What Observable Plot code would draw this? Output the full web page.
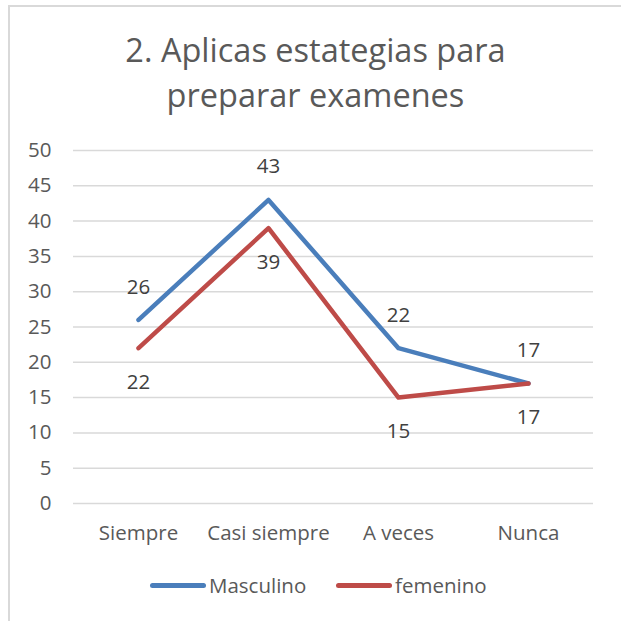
<!DOCTYPE html>
<html>
<head>
<meta charset="utf-8">
<script src="https://cdn.jsdelivr.net/npm/d3@7"></script>
<script src="https://cdn.jsdelivr.net/npm/@observablehq/plot@0.6"></script>
<style>
  html, body { margin: 0; padding: 0; background: #fff; }
  #frame { position: absolute; left: 8px; top: 5px; width: 640px; height: 640px;
           border-left: 2px solid #d9d9d9; border-top: 2px solid #d9d9d9; box-sizing: border-box; }
  #title { position: absolute; left: 0; top: 27px; width: 631px; text-align: center;
           font-family: "Open Sans", sans-serif; font-size: 32.5px; line-height: 45px; color: #595959; }
  #chart { position: absolute; left: 0; top: 125px; }
  #legend { position: absolute; left: 0; top: 572px; width: 621px; font-family: "Open Sans", sans-serif;
            font-size: 20.5px; color: #595959; }
  .item { position: absolute; top: 0; height: 26px; line-height: 26px; white-space: nowrap; }
  .swatch { position: absolute; top: 11px; height: 5px; border-radius: 3px; width: 56px; }
</style>
</head>
<body>
<div id="frame"></div>
<div id="title">2. Aplicas estategias para<br>preparar examenes</div>
<div id="chart"></div>
<div id="legend"></div>
<script>
const categories = ["Siempre", "Casi siempre", "A veces", "Nunca"];
const masculino = [26, 43, 22, 17];
const femenino = [22, 39, 15, 17];
const yTicks = [0, 5, 10, 15, 20, 25, 30, 35, 40, 45, 50];
const seriesNames = ["Masculino", "femenino"];
const seriesColors = ["#4a7ebb", "#be4b48"];

const data = [];
categories.forEach((c, i) => {
  data.push({cat: c, value: masculino[i], serie: seriesNames[0]});
  data.push({cat: c, value: femenino[i], serie: seriesNames[1]});
});
const masc = data.filter(d => d.serie === seriesNames[0]);
const fem = data.filter(d => d.serie === seriesNames[1]);

const chart = Plot.plot({
  width: 621,
  height: 430,
  marginLeft: 73,
  marginRight: 28,
  marginTop: 25,
  marginBottom: 52,
  style: {fontFamily: "'Open Sans', sans-serif", fontSize: "20.5px", color: "#595959", background: "transparent"},
  x: {type: "point", domain: categories, padding: 0.5, label: null, tickSize: 0, tickPadding: 22},
  y: {domain: [0, 50], ticks: yTicks, label: null, tickSize: 0, tickPadding: 22},
  color: {domain: seriesNames, range: seriesColors},
  marks: [
    Plot.ruleY(yTicks, {stroke: "#d9d9d9", strokeWidth: 1.5}),
    Plot.line(data, {x: "cat", y: "value", z: "serie", stroke: "serie", strokeWidth: 4.5,
      strokeLinecap: "round", strokeLinejoin: "round"}),
    Plot.text(masc, {x: "cat", y: "value", text: d => String(d.value), dy: -33, fill: "#404040", fontSize: 20.5}),
    Plot.text(fem, {x: "cat", y: "value", text: d => String(d.value), dy: 34, fill: "#404040", fontSize: 20.5})
  ]
});
document.getElementById("chart").appendChild(chart);

const legend = document.getElementById("legend");
const positions = [150, 336];
seriesNames.forEach((name, i) => {
  const sw = document.createElement("div");
  sw.className = "swatch";
  sw.style.left = positions[i] + "px";
  sw.style.background = seriesColors[i];
  legend.appendChild(sw);
  const t = document.createElement("div");
  t.className = "item";
  t.style.left = (positions[i] + 59) + "px";
  t.textContent = name;
  legend.appendChild(t);
});
</script>
</body>
</html>
